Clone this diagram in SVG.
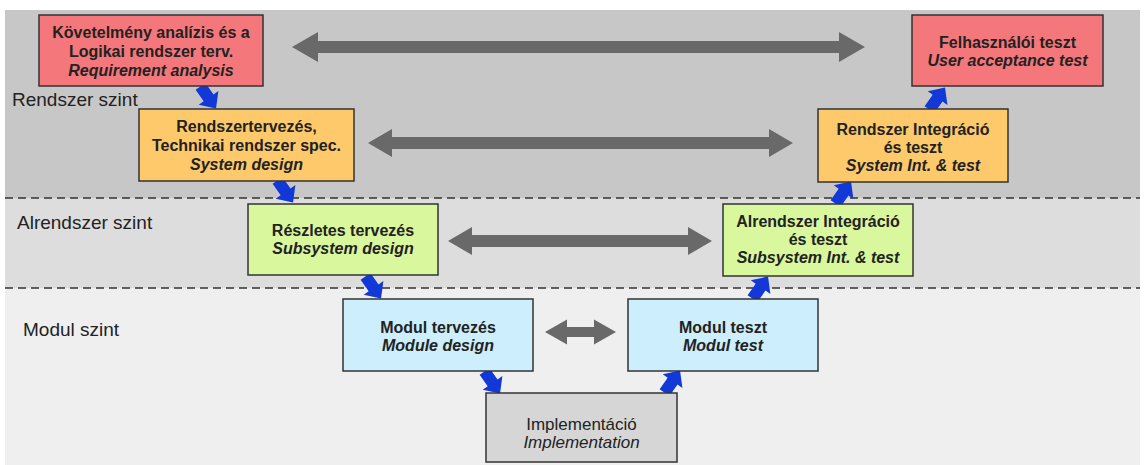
<svg xmlns="http://www.w3.org/2000/svg" xmlns:xlink="http://www.w3.org/1999/xlink" width="1145" height="465" viewBox="0 0 1145 465">
<style>
.box{stroke:#333;stroke-width:1.5}
.t{font-family:"Liberation Sans",Arial,sans-serif;font-size:16px;font-weight:bold;fill:#222;text-anchor:middle}
.i{font-style:italic}
.lvl{font-family:"Liberation Sans",Arial,sans-serif;font-size:19px;fill:#222}
.dash{stroke:#333;stroke-width:1.5;stroke-dasharray:8 5;fill:none}
.g{fill:#696969}
.b{fill:#1238d8}
</style>
<defs>
<path id="ba" d="M-13,-6 L1,-6 L1,-12 L14,0 L1,12 L1,6 L-13,6 Z"/>
</defs>
<rect x="0" y="0" width="1145" height="465" fill="#ffffff"/>
<rect x="5" y="10" width="1135" height="188" fill="#c7c7c7"/>
<rect x="5" y="198" width="1135" height="90" fill="#dddddd"/>
<rect x="5" y="288" width="1135" height="177" fill="#efefef"/>
<line class="dash" x1="5" y1="198" x2="1140" y2="198"/>
<line class="dash" x1="5" y1="288" x2="1140" y2="288"/>
<text class="lvl" x="12" y="106">Rendszer szint</text>
<text class="lvl" x="17" y="229">Alrendszer szint</text>
<text class="lvl" x="23" y="336">Modul szint</text>
<g id="connectors">
<polygon class="g" points="292,47 318,32 318,41 839,41 839,32 865,47 839,62 839,53 318,53 318,62"/>
<polygon class="g" points="368,143 392,129 392,137 769,137 769,129 793,143 769,157 769,149 392,149 392,157"/>
<polygon class="g" points="448,241 472,227 472,235 688,235 688,227 712,241 688,255 688,247 472,247 472,255"/>
<polygon class="g" points="545,332 567,319.5 567,327 594,327 594,319.5 616,332 594,344.5 594,337 567,337 567,344.5"/>
<use xlink:href="#ba" class="b" transform="translate(208,97) rotate(55)"/>
<use xlink:href="#ba" class="b" transform="translate(285,191) rotate(55)"/>
<use xlink:href="#ba" class="b" transform="translate(373,287) rotate(55)"/>
<use xlink:href="#ba" class="b" transform="translate(492,382) rotate(55)"/>
<use xlink:href="#ba" class="b" transform="translate(672,382) rotate(-55)"/>
<use xlink:href="#ba" class="b" transform="translate(760,288) rotate(-55)"/>
<use xlink:href="#ba" class="b" transform="translate(843,193) rotate(-55)"/>
<use xlink:href="#ba" class="b" transform="translate(937,99) rotate(-55)"/>
</g>
<g id="req">
<rect class="box" x="39" y="15" width="224" height="71" fill="#f4777b"/>
<text class="t" x="151" y="38">Követelmény analízis és a</text>
<text class="t" x="151" y="57">Logikai rendszer terv.</text>
<text class="t i" x="151" y="76">Requirement analysis</text>
</g>
<g id="sysdesign">
<rect class="box" x="139" y="109" width="215" height="72" fill="#fdc96a"/>
<text class="t" x="246.5" y="132">Rendszertervezés,</text>
<text class="t" x="246.5" y="151">Technikai rendszer spec.</text>
<text class="t i" x="246.5" y="170">System design</text>
</g>
<g id="uat">
<rect class="box" x="912" y="15" width="191" height="71" fill="#f4777b"/>
<text class="t" x="1007.5" y="48">Felhasználói teszt</text>
<text class="t i" x="1007.5" y="66">User acceptance test</text>
</g>
<g id="sysint">
<rect class="box" x="818" y="109" width="190" height="73" fill="#fdc96a"/>
<text class="t" x="913" y="135">Rendszer Integráció</text>
<text class="t" x="913" y="153">és teszt</text>
<text class="t i" x="913" y="171">System Int. &amp; test</text>
</g>
<g id="subdesign">
<rect class="box" x="248" y="204" width="190" height="71" fill="#d9f79c"/>
<text class="t" x="343" y="236">Részletes tervezés</text>
<text class="t i" x="343" y="254">Subsystem design</text>
</g>
<g id="subint">
<rect class="box" x="723" y="204" width="190" height="72" fill="#d9f79c"/>
<text class="t" x="818" y="227">Alrendszer Integráció</text>
<text class="t" x="818" y="245">és teszt</text>
<text class="t i" x="818" y="263">Subsystem Int. &amp; test</text>
</g>
<g id="moddesign">
<rect class="box" x="343" y="299" width="190" height="72" fill="#cdeefc"/>
<text class="t" x="438" y="333">Modul tervezés</text>
<text class="t i" x="438" y="351">Module design</text>
</g>
<g id="modtest">
<rect class="box" x="628" y="299" width="190" height="72" fill="#cdeefc"/>
<text class="t" x="723" y="333">Modul teszt</text>
<text class="t i" x="723" y="351">Modul test</text>
</g>
<g id="impl">
<rect class="box" x="486" y="393" width="191" height="69" fill="#d6d6d6"/>
<text class="t" x="581.5" y="430" style="font-weight:normal;font-size:17px">Implementáció</text>
<text class="t i" x="581.5" y="448" style="font-weight:normal;font-size:17px">Implementation</text>
</g>
</svg>
